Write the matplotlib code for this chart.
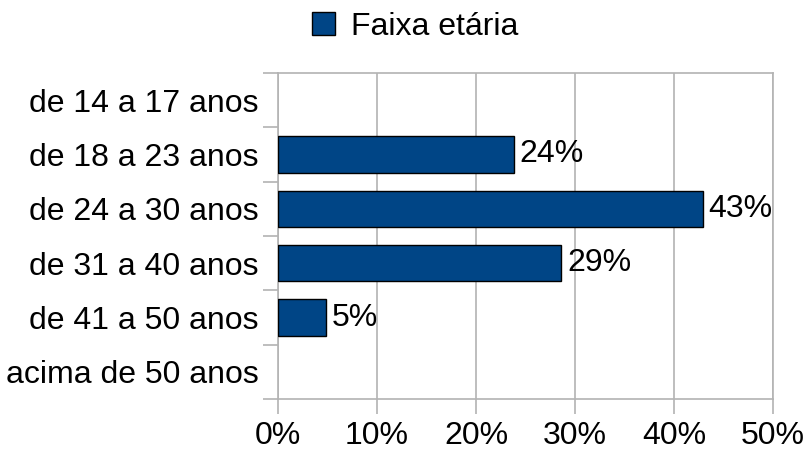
import matplotlib
matplotlib.use("Agg")
import matplotlib.pyplot as plt
from matplotlib.patches import Patch

categories = ["de 14 a 17 anos", "de 18 a 23 anos", "de 24 a 30 anos",
              "de 31 a 40 anos", "de 41 a 50 anos", "acima de 50 anos"]
values = [0, 23.8, 42.9, 28.6, 4.8, 0]
value_labels = ["", "24%", "43%", "29%", "5%", ""]
series_name = "Faixa etária"
x_ticks = [0, 10, 20, 30, 40, 50]
x_tick_labels = ["0%", "10%", "20%", "30%", "40%", "50%"]

plt.rcParams['font.family'] = ['Liberation Sans', 'DejaVu Sans']
FS = 23
bar_color = "#004586"
grid_color = "#b3b3b3"

fig = plt.figure(figsize=(8.09, 4.54), dpi=100)
ax = fig.add_axes([278/809, 55/454, 495/809, 326/454])

n = len(categories)
ypos = list(range(n))
for y, v in zip(ypos, values):
    if v > 0:
        ax.barh(y, v, height=0.67, color=bar_color, edgecolor="black",
                linewidth=1.0, zorder=3)
for y, v, lab in zip(ypos, values, value_labels):
    if lab:
        ax.text(v + 0.6, y, lab, va="center", ha="left", fontsize=FS, zorder=4)

ax.set_xlim(0, 50)
ax.set_ylim(n - 0.5, -0.5)
ax.set_xticks(x_ticks)
ax.set_xticklabels(x_tick_labels, fontsize=FS)
ax.set_yticks(ypos)
ax.set_yticklabels(categories, fontsize=FS)
# boundary ticks on the y axis
ax.set_yticks([i - 0.5 for i in range(n + 1)], minor=True)
ax.tick_params(axis="y", which="major", length=0, pad=14)
ax.tick_params(axis="y", which="minor", length=11, color=grid_color, width=1.2)
ax.tick_params(axis="x", which="major", length=11, color=grid_color, width=1.2, pad=5)
ax.grid(axis="x", color=grid_color, linewidth=1.2, zorder=0)
for s in ax.spines.values():
    s.set_color(grid_color)
    s.set_linewidth(1.2)

handles = [Patch(facecolor=bar_color, edgecolor="black", linewidth=1.0)]
fig.legend(handles, [series_name], loc="center", bbox_to_anchor=(415/809, 1 - 27/454),
           frameon=False, fontsize=FS, handlelength=0.72, handleheight=0.72,
           handletextpad=0.5, borderaxespad=0)

fig.savefig("out.png", dpi=100)
